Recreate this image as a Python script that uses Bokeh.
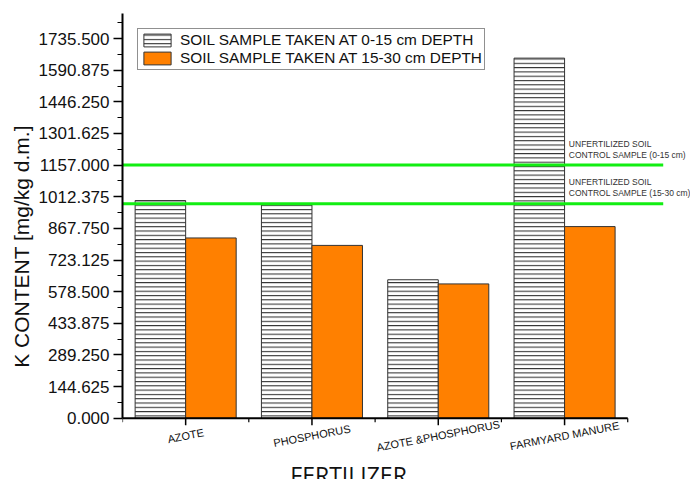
import math
from bokeh.plotting import figure
from bokeh.models import ColumnDataSource, Range1d, FixedTicker, PrintfTickFormatter, Legend
from bokeh.transform import dodge
from bokeh.core.properties import value
from bokeh.embed import file_html
from bokeh.resources import INLINE

# ---- data ----
categories = ["AZOTE", "PHOSPHORUS", "AZOTE &PHOSPHORUS", "FARMYARD MANURE"]
depth_0_15 = [995, 975, 633, 1646]
depth_15_30 = [824, 790, 614, 876]
series_names = ["SOIL SAMPLE TAKEN AT 0-15 cm DEPTH", "SOIL SAMPLE TAKEN AT 15-30 cm DEPTH"]
control_values = [1157, 980]
control_line1 = ["UNFERTILIZED SOIL", "UNFERTILIZED SOIL"]
control_line2 = ["CONTROL SAMPLE (0-15 cm)", "CONTROL SAMPLE (15-30 cm)"]
y_ticks = [0.000, 144.625, 289.250, 433.875, 578.500, 723.125, 867.750,
           1012.375, 1157.000, 1301.625, 1446.250, 1590.875, 1735.500]
y_title = "K CONTENT [mg/kg d.m.]"
x_title = "FERTILIZER"

FONT = "Liberation Sans"
ORANGE = "#ff8000"
GREEN = "#12ee12"
DARK = "#111111"

ncat = len(categories)
xs = [i + 1 for i in range(ncat)]
x_lo, x_hi = 0.5, ncat + 0.5

p = figure(width=690, height=479, x_range=Range1d(0.5, 4.997), y_range=Range1d(-280, 1850),
           output_backend="svg", toolbar_location=None, x_axis_location=None,
           min_border_left=122, min_border_right=0, min_border_top=13, min_border_bottom=0)
p.grid.visible = False
p.outline_line_color = None
p.background_fill_color = "white"
p.border_fill_color = "white"

src = ColumnDataSource(dict(x=xs, a=depth_0_15, b=depth_15_30))

r1 = p.vbar(x=dodge('x', -0.2), top='a', width=0.4, source=src,
            fill_color="white", line_color="#333333", line_width=1,
            hatch_pattern="horizontal_line", hatch_color="#222222",
            hatch_scale=4.3, hatch_weight=1)
r2 = p.vbar(x=dodge('x', 0.2), top='b', width=0.4, source=src,
            fill_color=ORANGE, line_color="#333333", line_width=1)

# control lines
n = len(control_values)
lsrc = ColumnDataSource(dict(x0=[x_lo] * n, x1=[4.781] * n, y=control_values,
                             t1=control_line1, t2=control_line2, tx=[4.034] * n))
p.segment(x0='x0', x1='x1', y0='y', y1='y', source=lsrc, line_color=GREEN, line_width=3)
p.text(x='tx', y='y', text='t1', source=lsrc, y_offset=-21.5, text_baseline="middle",
       text_align="left", text_font=value(FONT), text_font_size="8.5px", text_color="#333333")
p.text(x='tx', y='y', text='t2', source=lsrc, y_offset=-10.5, text_baseline="middle",
       text_align="left", text_font=value(FONT), text_font_size="8.5px", text_color="#333333")

# x axis (drawn in the frame so that its title may run off the bottom edge, like the reference)
p.segment(x0=[x_lo], x1=[x_hi], y0=[0], y1=[0], line_color="black", line_width=2)
p.ray(x=xs, y=[0] * ncat, length=7, length_units="screen", angle=-math.pi / 2,
      line_color="black", line_width=1.5)
minor_x = [x - 0.5 for x in xs] + [x_hi]
p.ray(x=minor_x, y=[0] * len(minor_x), length=4, length_units="screen", angle=-math.pi / 2,
      line_color="black", line_width=1.2)
p.text(x=xs, y=[0] * ncat, text=categories, angle=0.19, y_offset=17.5,
       text_align="center", text_baseline="middle", text_font=value(FONT),
       text_font_size="11px", text_color=DARK)
p.text(x=[2.29], y=[0], text=[x_title], y_offset=40.5, text_align="center",
       text_baseline="top", text_font=value("Open Sans"), text_font_size="23px",
       text_color=DARK)

# legend
legend = Legend(items=[(series_names[0], [r1]), (series_names[1], [r2])],
                location=(15, 409), orientation="vertical",
                label_text_font=FONT, label_text_font_size="15.4px", label_text_color=DARK,
                glyph_width=34, glyph_height=16, label_height=16, label_standoff=6,
                spacing=0, padding=2, margin=0,
                border_line_color="#222222", border_line_width=1,
                background_fill_color="white", background_fill_alpha=1.0)
p.add_layout(legend)

# y axis
yaxis = p.yaxis[0]
yaxis.bounds = (0, 1850)
yaxis.ticker = FixedTicker(ticks=y_ticks, minor_ticks=[t + 72.3125 for t in y_ticks])
yaxis.formatter = PrintfTickFormatter(format="%.3f")
yaxis.major_label_text_font = FONT
yaxis.major_label_text_font_size = "17px"
yaxis.major_label_text_color = DARK
yaxis.major_label_standoff = 4
yaxis.axis_label = y_title
yaxis.axis_label_text_font = FONT
yaxis.axis_label_text_font_size = "21px"
yaxis.axis_label_text_font_style = "normal"
yaxis.axis_label_text_color = DARK
yaxis.axis_label_standoff = 3
yaxis.axis_line_width = 2
yaxis.axis_line_color = "black"
yaxis.major_tick_out = 9
yaxis.major_tick_in = 0
yaxis.minor_tick_out = 5
yaxis.minor_tick_in = 0
yaxis.major_tick_line_width = 1.5
yaxis.minor_tick_line_width = 1.2

open("out.html", "w").write(file_html(p, INLINE))
